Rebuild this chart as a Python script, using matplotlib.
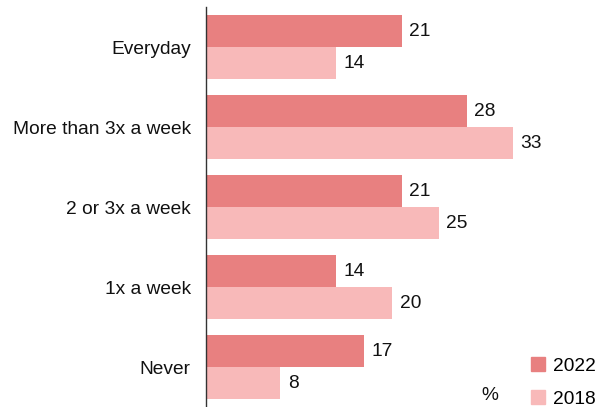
import matplotlib.pyplot as plt
from matplotlib.lines import Line2D
import numpy as np

plt.rcParams['font.family'] = ['Liberation Sans', 'DejaVu Sans']

categories = ['Everyday', 'More than 3x a week', '2 or 3x a week', '1x a week', 'Never']
vals_2022 = [21, 28, 21, 14, 17]
vals_2018 = [14, 33, 25, 20, 8]

c2022 = '#E88080'
c2018 = '#F8B9B9'
fs = 13.8

fig = plt.figure(figsize=(5.97, 4.07), dpi=100)
ax = fig.add_axes([206 / 597, 0, 391 / 597, 400 / 407])

y = np.arange(len(categories))
h = 0.4
ax.barh(y - h / 2, vals_2022, height=h, color=c2022)
ax.barh(y + h / 2, vals_2018, height=h, color=c2018)

for yi, v in zip(y, vals_2022):
    ax.text(v + 0.8, yi - h / 2, str(v), va='center', ha='left', fontsize=fs, color='#111111')
for yi, v in zip(y, vals_2018):
    ax.text(v + 0.8, yi + h / 2, str(v), va='center', ha='left', fontsize=fs, color='#111111')

ax.set_xlim(0, 42)
ax.set_ylim(4.5, -0.5)
ax.set_yticks(y)
ax.set_yticklabels(categories, fontsize=fs, color='#111111')
ax.tick_params(axis='y', length=0, pad=11)
ax.set_xticks([])
for s in ['top', 'right', 'bottom']:
    ax.spines[s].set_visible(False)
ax.spines['left'].set_color('#333333')
ax.spines['left'].set_linewidth(1)

handles = [Line2D([], [], marker='s', linestyle='', markersize=10, color=c2022),
           Line2D([], [], marker='s', linestyle='', markersize=10, color=c2018)]
fig.legend(handles, ['2022', '2018'], loc='lower right', bbox_to_anchor=(1.027, -0.045),
           frameon=False, fontsize=fs, handletextpad=0.3, labelspacing=0.82,
           handlelength=1.0)
fig.text(490 / 597, 1 - 395 / 407, '%', fontsize=fs, va='center', ha='center', color='#111111')

fig.savefig('out.png', dpi=100)
